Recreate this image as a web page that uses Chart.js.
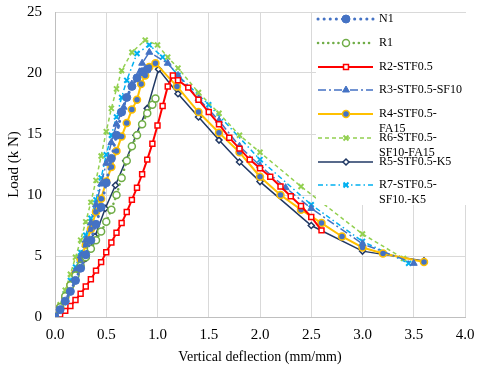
<!DOCTYPE html>
<html>
<head>
<meta charset="utf-8">
<script src="https://cdn.jsdelivr.net/npm/chart.js"></script>
<style>
  html, body { margin: 0; padding: 0; background: #fff; }
  #wrap { width: 480px; height: 368px; }
</style>
</head>
<body>
<div id="wrap"><canvas id="loadChart" width="480" height="368"></canvas></div>
<script>
// vertical deflection (mm/mm) vs load (kN)
const n1X = [0, 0.05, 0.1, 0.15, 0.2, 0.25, 0.3, 0.35, 0.4, 0.45, 0.5, 0.55, 0.6, 0.65, 0.7, 0.75, 0.8, 0.85, 0.9];
const n1Y = [0, 0.6, 1.3, 2.1, 3.0, 4.0, 5.1, 6.3, 7.6, 9.0, 11.0, 13.0, 14.9, 16.8, 18.0, 18.9, 19.6, 20.1, 20.3];

const r1X = [0, 0.05, 0.1, 0.15, 0.2, 0.25, 0.3, 0.35, 0.4, 0.45, 0.5, 0.55, 0.6, 0.65, 0.7, 0.75, 0.8, 0.85, 0.9, 0.95, 0.98];
const r1Y = [0, 0.8, 1.7, 2.6, 3.4, 4.2, 4.9, 5.6, 6.3, 7.0, 7.8, 8.8, 10.0, 11.4, 12.8, 14.0, 14.9, 15.8, 16.7, 17.4, 17.9];

const r2X = [0, 0.05, 0.1, 0.15, 0.2, 0.25, 0.3, 0.35, 0.4, 0.45, 0.5, 0.55, 0.6, 0.65, 0.7, 0.75, 0.8, 0.85, 0.9, 0.95, 1.0, 1.05, 1.1, 1.15,
             1.2, 1.3, 1.4, 1.5, 1.6, 1.7, 1.8, 1.9, 2.0, 2.1, 2.2, 2.3, 2.4, 2.5, 2.6];
const r2Y = [0, 0.2, 0.5, 0.9, 1.4, 1.9, 2.5, 3.1, 3.8, 4.5, 5.3, 6.1, 6.9, 7.7, 8.6, 9.6, 10.6, 11.7, 12.9, 14.2, 15.7, 17.3, 18.9, 19.8,
             19.4, 18.8, 17.8, 16.8, 15.8, 14.7, 13.8, 12.9, 12.2, 11.5, 10.7, 9.9, 9.1, 8.2, 7.1];

const r3X = [0, 0.05, 0.1, 0.15, 0.2, 0.25, 0.3, 0.35, 0.4, 0.45, 0.5, 0.55, 0.6, 0.67, 0.75, 0.85, 0.92,
             1.1, 1.2, 1.4, 1.6, 1.8, 2.0, 2.25, 2.5, 3.0, 3.5];
const r3Y = [0, 0.8, 1.7, 2.7, 3.8, 5.0, 6.3, 7.7, 9.2, 10.9, 12.6, 14.3, 15.8, 17.2, 19.1, 20.8, 21.7,
             20.8, 19.8, 17.9, 16.1, 14.0, 12.4, 10.6, 8.9, 6.0, 4.4];

const r4X = [0, 0.05, 0.1, 0.15, 0.2, 0.25, 0.3, 0.35, 0.4, 0.45, 0.5, 0.55, 0.6, 0.65, 0.7, 0.75, 0.8, 0.84, 0.88, 0.92, 0.98,
             1.19, 1.4, 1.6, 1.8, 2.0, 2.2, 2.4, 2.6, 2.8, 3.0, 3.2, 3.6];
const r4Y = [0, 0.8, 1.6, 2.6, 3.6, 4.7, 5.9, 7.2, 8.6, 9.7, 11.1, 12.3, 13.6, 14.8, 15.9, 17.0, 17.8, 19.1, 19.8, 20.5, 20.8,
             18.9, 16.8, 15.1, 13.5, 11.5, 10.0, 8.8, 7.7, 6.6, 5.7, 5.2, 4.5];

const r6X = [0, 0.05, 0.1, 0.15, 0.2, 0.25, 0.3, 0.35, 0.4, 0.45, 0.5, 0.55, 0.6, 0.65, 0.75, 0.88, 1.0,
             1.1, 1.2, 1.4, 1.6, 1.8, 2.0, 2.4, 3.0, 3.4];
const r6Y = [0, 1.0, 2.2, 3.5, 4.9, 6.3, 7.8, 9.4, 11.2, 13.2, 15.2, 17.1, 18.7, 20.2, 21.7, 22.7, 22.3,
             21.3, 20.4, 18.4, 16.7, 14.9, 13.5, 10.7, 6.8, 4.8];

const r5X = [0, 0.1, 0.2, 0.3, 0.39, 0.49, 0.59, 0.69, 0.79, 0.9, 1.01, 1.2, 1.4, 1.6, 1.8, 2.0, 2.5, 3.0, 3.6];
const r5Y = [0, 1.3, 3.0, 4.8, 6.6, 8.9, 10.8, 12.8, 14.9, 17.1, 20.3, 18.3, 16.4, 14.5, 12.7, 11.1, 7.5, 5.4, 4.6];

const r7X = [0, 0.05, 0.1, 0.15, 0.2, 0.25, 0.3, 0.35, 0.4, 0.45, 0.5, 0.55, 0.6, 0.65, 0.7, 0.8, 0.92,
             1.05, 1.2, 1.5, 2.0, 2.5, 3.0, 3.45];
const r7Y = [0, 0.9, 1.9, 3.0, 4.1, 5.3, 6.7, 8.1, 9.6, 11.4, 13.3, 14.9, 16.4, 18.0, 19.4, 21.6, 22.3,
             21.3, 19.8, 17.4, 12.9, 9.2, 6.2, 4.4];

const seriesNames = ['N1', 'R1', 'R2-STF0.5', 'R3-STF0.5-SF10', 'R4-STF0.5-FA15',
                     'R6-STF0.5-SF10-FA15', 'R5-STF0.5-K5', 'R7-STF0.5-SF10.-K5'];
// how the legend wraps each name
const legendLines = [['N1'], ['R1'], ['R2-STF0.5'], ['R3-STF0.5-SF10'], ['R4-STF0.5-', 'FA15'],
                     ['R6-STF0.5-', 'SF10-FA15'], ['R5-STF0.5-K5'], ['R7-STF0.5-', 'SF10.-K5']];

const yTicks = [0, 5, 10, 15, 20, 25];
const xTicks = [0, 0.5, 1.0, 1.5, 2.0, 2.5, 3.0, 3.5, 4.0];

const serif = '"Liberation Serif", "Times New Roman", serif';

function pts(xs, ys) {
    return xs.map((x, i) => ({ x: x, y: ys[i] }));
}

const datasets = [
    { data: pts(n1X, n1Y), borderColor: '#4472C4', borderWidth: 3, borderDash: [0.1, 6], borderCapStyle: 'round',
      pointStyle: 'circle', pointRadius: 4, pointBackgroundColor: '#4472C4', pointBorderColor: '#4472C4', pointBorderWidth: 1 },
    { data: pts(r1X, r1Y), borderColor: '#70AD47', borderWidth: 2.5, borderDash: [0.1, 5], borderCapStyle: 'round',
      pointStyle: 'circle', pointRadius: 3.5, pointBackgroundColor: '#ffffff', pointBorderColor: '#70AD47', pointBorderWidth: 1.5 },
    { data: pts(r2X, r2Y), borderColor: '#FF0000', borderWidth: 2, borderDash: [],
      pointStyle: 'rect', pointRadius: 3.5, pointBackgroundColor: '#ffffff', pointBorderColor: '#FF0000', pointBorderWidth: 1.5 },
    { data: pts(r3X, r3Y), borderColor: '#4472C4', borderWidth: 1.5, borderDash: [8, 3, 2, 3],
      pointStyle: 'triangle', pointRadius: 4, pointBackgroundColor: '#4472C4', pointBorderColor: '#4472C4', pointBorderWidth: 1 },
    { data: pts(r4X, r4Y), borderColor: '#FFC000', borderWidth: 2, borderDash: [],
      pointStyle: 'circle', pointRadius: 3.5, pointBackgroundColor: '#4472C4', pointBorderColor: '#FFC000', pointBorderWidth: 1.5 },
    { data: pts(r6X, r6Y), borderColor: '#92D050', borderWidth: 1.5, borderDash: [4, 3],
      pointStyle: 'crossRot', pointRadius: 3.5, pointBackgroundColor: '#92D050', pointBorderColor: '#92D050', pointBorderWidth: 2 },
    { data: pts(r5X, r5Y), borderColor: '#203864', borderWidth: 1.5, borderDash: [],
      pointStyle: 'rectRot', pointRadius: 3, pointBackgroundColor: '#ffffff', pointBorderColor: '#203864', pointBorderWidth: 1.5 },
    { data: pts(r7X, r7Y), borderColor: '#00B0F0', borderWidth: 1.5, borderDash: [5, 3, 1.5, 3],
      pointStyle: 'crossRot', pointRadius: 3.5, pointBackgroundColor: '#00B0F0', pointBorderColor: '#00B0F0', pointBorderWidth: 2 }
];
datasets.forEach((ds, i) => {
    ds.label = seriesNames[i];
    ds.showLine = true;
    ds.fill = false;
    ds.tension = 0;
});

// legend sits inside the plot, top right, on a white box
const legendRowY = [19, 43, 67, 90, 114, 138, 162, 185];
const legendBox = {
    id: 'legendBox',
    afterDatasetsDraw(chart) {
        const ctx = chart.ctx;
        ctx.save();
        ctx.fillStyle = '#ffffff';
        ctx.fillRect(316, 13, 158, 192);
        chart.data.datasets.forEach((ds, i) => {
            const y = legendRowY[i];
            ctx.strokeStyle = ds.borderColor;
            ctx.lineWidth = ds.borderWidth;
            ctx.lineCap = ds.borderCapStyle || 'butt';
            ctx.setLineDash(ds.borderDash || []);
            ctx.beginPath();
            ctx.moveTo(318, y);
            ctx.lineTo(373, y);
            ctx.stroke();
            ctx.setLineDash([]);
            ctx.lineCap = 'butt';
            ctx.fillStyle = ds.pointBackgroundColor;
            ctx.strokeStyle = ds.pointBorderColor;
            ctx.lineWidth = ds.pointBorderWidth;
            Chart.helpers.drawPoint(ctx, {
                pointStyle: ds.pointStyle, radius: ds.pointRadius, rotation: 0, borderWidth: ds.pointBorderWidth
            }, 346, y);
            ctx.fillStyle = '#000000';
            ctx.font = '12px ' + serif;
            ctx.textAlign = 'left';
            ctx.textBaseline = 'middle';
            legendLines[i].forEach((t, k) => ctx.fillText(t, 379, y + k * 14.5));
        });
        ctx.restore();
    }
};

const chart = new Chart(document.getElementById('loadChart'), {
    type: 'scatter',
    data: { datasets: datasets },
    options: {
        responsive: false,
        animation: false,
        devicePixelRatio: 1,
        layout: { padding: { top: 12, right: 15, left: 0, bottom: 0 } },
        plugins: {
            legend: { display: false },
            tooltip: { enabled: false }
        },
        scales: {
            x: {
                type: 'linear',
                min: 0,
                max: 4,
                afterBuildTicks: s => { s.ticks = xTicks.map(v => ({ value: v })); },
                afterFit: s => { s.height = 51; s.paddingLeft = 0; s.paddingRight = 0; },
                ticks: {
                    callback: v => Number(v).toFixed(1),
                    font: { family: serif, size: 15 },
                    color: '#000000',
                    padding: 9,
                    maxRotation: 0
                },
                grid: { color: '#d9d9d9', drawTicks: false },
                border: { color: '#bfbfbf' },
                title: {
                    display: true,
                    text: 'Vertical deflection (mm/mm)',
                    font: { family: serif, size: 14 },
                    color: '#000000',
                    padding: { top: 0, bottom: 2 }
                }
            },
            y: {
                min: 0,
                max: 25,
                afterBuildTicks: s => { s.ticks = yTicks.map(v => ({ value: v })); },
                afterFit: s => { s.width = 55; s.paddingTop = 0; s.paddingBottom = 0; },
                ticks: {
                    font: { family: serif, size: 15 },
                    color: '#000000',
                    padding: 13
                },
                grid: { color: '#d9d9d9', drawTicks: false },
                border: { color: '#bfbfbf' },
                title: {
                    display: true,
                    text: 'Load (k N)',
                    font: { family: serif, size: 15 },
                    color: '#000000',
                    padding: { top: 5, bottom: 0 }
                }
            }
        }
    },
    plugins: [legendBox]
});
</script>
</body>
</html>
